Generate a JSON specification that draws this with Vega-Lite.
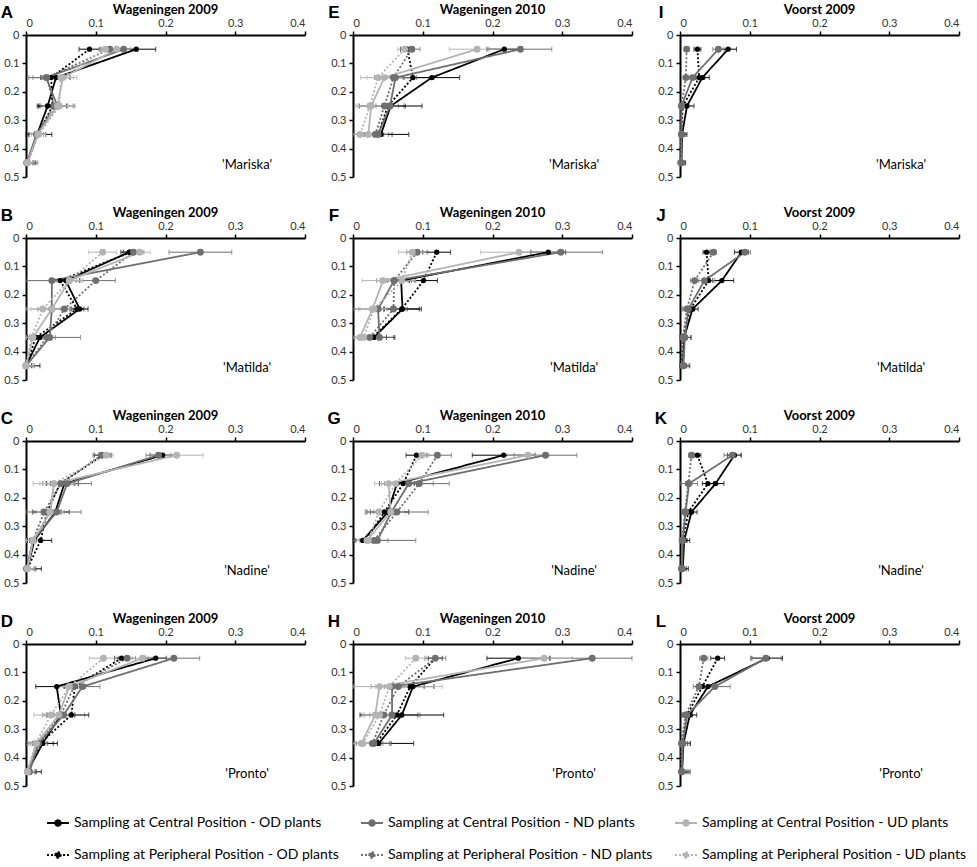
{
  "$schema": "https://vega.github.io/schema/vega-lite/v6.json",
  "description": "Root distribution by depth, 12 panels",
  "padding": {"left": 0, "top": 4, "right": 0, "bottom": 0},
  "data": {
    "values": [
      {"p":"A","s":"COD","d":0.05,"v":0.158,"e":0.028,"cv":"'Mariska'"},{"p":"A","s":"COD","d":0.15,"v":0.043,"e":0.02},{"p":"A","s":"COD","d":0.25,"v":0.031,"e":0.015},{"p":"A","s":"COD","d":0.35,"v":0.016,"e":0.012},{"p":"A","s":"COD","d":0.45,"v":0.002,"e":0.008},
      {"p":"A","s":"POD","d":0.05,"v":0.091,"e":0.015},{"p":"A","s":"POD","d":0.15,"v":0.036,"e":0.015},{"p":"A","s":"POD","d":0.25,"v":0.038,"e":0.02},{"p":"A","s":"POD","d":0.35,"v":0.017,"e":0.02},{"p":"A","s":"POD","d":0.45,"v":0.002,"e":0.012},
      {"p":"A","s":"CND","d":0.05,"v":0.14,"e":0.02},{"p":"A","s":"CND","d":0.15,"v":0.029,"e":0.025},{"p":"A","s":"CND","d":0.25,"v":0.045,"e":0.025},{"p":"A","s":"CND","d":0.35,"v":0.015,"e":0.01},{"p":"A","s":"CND","d":0.45,"v":0.001,"e":0.01},
      {"p":"A","s":"PND","d":0.05,"v":0.12,"e":0.012},{"p":"A","s":"PND","d":0.15,"v":0.03,"e":0.02},{"p":"A","s":"PND","d":0.25,"v":0.04,"e":0.02},{"p":"A","s":"PND","d":0.35,"v":0.016,"e":0.012},{"p":"A","s":"PND","d":0.45,"v":0.002,"e":0.015},
      {"p":"A","s":"CUD","d":0.05,"v":0.13,"e":0.02},{"p":"A","s":"CUD","d":0.15,"v":0.053,"e":0.02},{"p":"A","s":"CUD","d":0.25,"v":0.045,"e":0.022},{"p":"A","s":"CUD","d":0.35,"v":0.017,"e":0.012},{"p":"A","s":"CUD","d":0.45,"v":0.002,"e":0.01},
      {"p":"A","s":"PUD","d":0.05,"v":0.114,"e":0.01},{"p":"A","s":"PUD","d":0.15,"v":0.05,"e":0.018},{"p":"A","s":"PUD","d":0.25,"v":0.048,"e":0.02},{"p":"A","s":"PUD","d":0.35,"v":0.018,"e":0.01},{"p":"A","s":"PUD","d":0.45,"v":0.002,"e":0.01},

      {"p":"B","s":"COD","d":0.05,"v":0.148,"e":0.012,"cv":"'Matilda'"},{"p":"B","s":"COD","d":0.15,"v":0.057,"e":0.02},{"p":"B","s":"COD","d":0.25,"v":0.077,"e":0.012},{"p":"B","s":"COD","d":0.35,"v":0.02,"e":0.01},{"p":"B","s":"COD","d":0.45,"v":0.0,"e":0.008},
      {"p":"B","s":"POD","d":0.05,"v":0.15,"e":0.01},{"p":"B","s":"POD","d":0.15,"v":0.049,"e":0.015},{"p":"B","s":"POD","d":0.25,"v":0.073,"e":0.01},{"p":"B","s":"POD","d":0.35,"v":0.014,"e":0.012},{"p":"B","s":"POD","d":0.45,"v":0.0,"e":0.02},
      {"p":"B","s":"CND","d":0.05,"v":0.25,"e":0.045},{"p":"B","s":"CND","d":0.15,"v":0.037,"e":0.04},{"p":"B","s":"CND","d":0.25,"v":0.037,"e":0.02},{"p":"B","s":"CND","d":0.35,"v":0.034,"e":0.044},{"p":"B","s":"CND","d":0.45,"v":0.0,"e":0.01},
      {"p":"B","s":"PND","d":0.05,"v":0.154,"e":0.015},{"p":"B","s":"PND","d":0.15,"v":0.1,"e":0.028},{"p":"B","s":"PND","d":0.25,"v":0.055,"e":0.02},{"p":"B","s":"PND","d":0.35,"v":0.03,"e":0.012},{"p":"B","s":"PND","d":0.45,"v":0.0,"e":0.012},
      {"p":"B","s":"CUD","d":0.05,"v":0.163,"e":0.015},{"p":"B","s":"CUD","d":0.15,"v":0.062,"e":0.02},{"p":"B","s":"CUD","d":0.25,"v":0.037,"e":0.03},{"p":"B","s":"CUD","d":0.35,"v":0.01,"e":0.015},{"p":"B","s":"CUD","d":0.45,"v":0.0,"e":0.012},
      {"p":"B","s":"PUD","d":0.05,"v":0.11,"e":0.02},{"p":"B","s":"PUD","d":0.15,"v":0.062,"e":0.018},{"p":"B","s":"PUD","d":0.25,"v":0.024,"e":0.025},{"p":"B","s":"PUD","d":0.35,"v":0.008,"e":0.01},{"p":"B","s":"PUD","d":0.45,"v":0.0,"e":0.012},

      {"p":"C","s":"COD","d":0.05,"v":0.196,"e":0.018,"cv":"'Nadine'"},{"p":"C","s":"COD","d":0.15,"v":0.055,"e":0.02},{"p":"C","s":"COD","d":0.25,"v":0.042,"e":0.02},{"p":"C","s":"COD","d":0.35,"v":0.012,"e":0.01},{"p":"C","s":"COD","d":0.45,"v":0.002,"e":0.012},
      {"p":"C","s":"POD","d":0.05,"v":0.11,"e":0.012},{"p":"C","s":"POD","d":0.15,"v":0.049,"e":0.02},{"p":"C","s":"POD","d":0.25,"v":0.03,"e":0.02},{"p":"C","s":"POD","d":0.35,"v":0.021,"e":0.016},{"p":"C","s":"POD","d":0.45,"v":0.002,"e":0.02},
      {"p":"C","s":"CND","d":0.05,"v":0.19,"e":0.018},{"p":"C","s":"CND","d":0.15,"v":0.059,"e":0.035},{"p":"C","s":"CND","d":0.25,"v":0.044,"e":0.035},{"p":"C","s":"CND","d":0.35,"v":0.01,"e":0.012},{"p":"C","s":"CND","d":0.45,"v":0.001,"e":0.01},
      {"p":"C","s":"PND","d":0.05,"v":0.108,"e":0.012},{"p":"C","s":"PND","d":0.15,"v":0.05,"e":0.02},{"p":"C","s":"PND","d":0.25,"v":0.026,"e":0.025},{"p":"C","s":"PND","d":0.35,"v":0.01,"e":0.01},{"p":"C","s":"PND","d":0.45,"v":0.001,"e":0.012},
      {"p":"C","s":"CUD","d":0.05,"v":0.216,"e":0.038},{"p":"C","s":"CUD","d":0.15,"v":0.04,"e":0.03},{"p":"C","s":"CUD","d":0.25,"v":0.035,"e":0.02},{"p":"C","s":"CUD","d":0.35,"v":0.01,"e":0.01},{"p":"C","s":"CUD","d":0.45,"v":0.002,"e":0.01},
      {"p":"C","s":"PUD","d":0.05,"v":0.115,"e":0.01},{"p":"C","s":"PUD","d":0.15,"v":0.04,"e":0.02},{"p":"C","s":"PUD","d":0.25,"v":0.034,"e":0.02},{"p":"C","s":"PUD","d":0.35,"v":0.01,"e":0.012},{"p":"C","s":"PUD","d":0.45,"v":0.002,"e":0.012},

      {"p":"D","s":"COD","d":0.05,"v":0.186,"e":0.015,"cv":"'Pronto'"},{"p":"D","s":"COD","d":0.15,"v":0.044,"e":0.03},{"p":"D","s":"COD","d":0.25,"v":0.05,"e":0.02},{"p":"D","s":"COD","d":0.35,"v":0.024,"e":0.015},{"p":"D","s":"COD","d":0.45,"v":0.002,"e":0.012},
      {"p":"D","s":"POD","d":0.05,"v":0.137,"e":0.01},{"p":"D","s":"POD","d":0.15,"v":0.07,"e":0.015},{"p":"D","s":"POD","d":0.25,"v":0.065,"e":0.025},{"p":"D","s":"POD","d":0.35,"v":0.02,"e":0.025},{"p":"D","s":"POD","d":0.45,"v":0.002,"e":0.02},
      {"p":"D","s":"CND","d":0.05,"v":0.212,"e":0.037},{"p":"D","s":"CND","d":0.15,"v":0.081,"e":0.025},{"p":"D","s":"CND","d":0.25,"v":0.054,"e":0.03},{"p":"D","s":"CND","d":0.35,"v":0.018,"e":0.012},{"p":"D","s":"CND","d":0.45,"v":0.005,"e":0.01},
      {"p":"D","s":"PND","d":0.05,"v":0.145,"e":0.012},{"p":"D","s":"PND","d":0.15,"v":0.069,"e":0.015},{"p":"D","s":"PND","d":0.25,"v":0.05,"e":0.02},{"p":"D","s":"PND","d":0.35,"v":0.016,"e":0.015},{"p":"D","s":"PND","d":0.45,"v":0.003,"e":0.012},
      {"p":"D","s":"CUD","d":0.05,"v":0.167,"e":0.015},{"p":"D","s":"CUD","d":0.15,"v":0.062,"e":0.015},{"p":"D","s":"CUD","d":0.25,"v":0.047,"e":0.02},{"p":"D","s":"CUD","d":0.35,"v":0.015,"e":0.012},{"p":"D","s":"CUD","d":0.45,"v":0.002,"e":0.01},
      {"p":"D","s":"PUD","d":0.05,"v":0.111,"e":0.02},{"p":"D","s":"PUD","d":0.15,"v":0.062,"e":0.015},{"p":"D","s":"PUD","d":0.25,"v":0.036,"e":0.025},{"p":"D","s":"PUD","d":0.35,"v":0.014,"e":0.01},{"p":"D","s":"PUD","d":0.45,"v":0.002,"e":0.01},

      {"p":"E","s":"COD","d":0.05,"v":0.217,"e":0.025,"cv":"'Mariska'"},{"p":"E","s":"COD","d":0.15,"v":0.113,"e":0.04},{"p":"E","s":"COD","d":0.25,"v":0.054,"e":0.045},{"p":"E","s":"COD","d":0.35,"v":0.04,"e":0.04},
      {"p":"E","s":"POD","d":0.05,"v":0.078,"e":0.01},{"p":"E","s":"POD","d":0.15,"v":0.086,"e":0.03},{"p":"E","s":"POD","d":0.25,"v":0.05,"e":0.025},{"p":"E","s":"POD","d":0.35,"v":0.036,"e":0.02},
      {"p":"E","s":"CND","d":0.05,"v":0.24,"e":0.045},{"p":"E","s":"CND","d":0.15,"v":0.061,"e":0.03},{"p":"E","s":"CND","d":0.25,"v":0.053,"e":0.02},{"p":"E","s":"CND","d":0.35,"v":0.036,"e":0.015},
      {"p":"E","s":"PND","d":0.05,"v":0.084,"e":0.012},{"p":"E","s":"PND","d":0.15,"v":0.058,"e":0.025},{"p":"E","s":"PND","d":0.25,"v":0.045,"e":0.02},{"p":"E","s":"PND","d":0.35,"v":0.032,"e":0.012},
      {"p":"E","s":"CUD","d":0.05,"v":0.178,"e":0.04},{"p":"E","s":"CUD","d":0.15,"v":0.045,"e":0.025},{"p":"E","s":"CUD","d":0.25,"v":0.026,"e":0.02},{"p":"E","s":"CUD","d":0.35,"v":0.022,"e":0.015},
      {"p":"E","s":"PUD","d":0.05,"v":0.074,"e":0.01},{"p":"E","s":"PUD","d":0.15,"v":0.036,"e":0.025},{"p":"E","s":"PUD","d":0.25,"v":0.024,"e":0.02},{"p":"E","s":"PUD","d":0.35,"v":0.01,"e":0.01},

      {"p":"F","s":"COD","d":0.05,"v":0.28,"e":0.025,"cv":"'Matilda'"},{"p":"F","s":"COD","d":0.15,"v":0.069,"e":0.02},{"p":"F","s":"COD","d":0.25,"v":0.071,"e":0.027},{"p":"F","s":"COD","d":0.35,"v":0.03,"e":0.03},
      {"p":"F","s":"POD","d":0.05,"v":0.12,"e":0.02},{"p":"F","s":"POD","d":0.15,"v":0.101,"e":0.02},{"p":"F","s":"POD","d":0.25,"v":0.07,"e":0.025},{"p":"F","s":"POD","d":0.35,"v":0.028,"e":0.02},
      {"p":"F","s":"CND","d":0.05,"v":0.298,"e":0.06},{"p":"F","s":"CND","d":0.15,"v":0.059,"e":0.025},{"p":"F","s":"CND","d":0.25,"v":0.036,"e":0.04},{"p":"F","s":"CND","d":0.35,"v":0.038,"e":0.02},
      {"p":"F","s":"PND","d":0.05,"v":0.092,"e":0.015},{"p":"F","s":"PND","d":0.15,"v":0.059,"e":0.02},{"p":"F","s":"PND","d":0.25,"v":0.058,"e":0.02},{"p":"F","s":"PND","d":0.35,"v":0.024,"e":0.015},
      {"p":"F","s":"CUD","d":0.05,"v":0.238,"e":0.055},{"p":"F","s":"CUD","d":0.15,"v":0.043,"e":0.03},{"p":"F","s":"CUD","d":0.25,"v":0.028,"e":0.02},{"p":"F","s":"CUD","d":0.35,"v":0.01,"e":0.01},
      {"p":"F","s":"PUD","d":0.05,"v":0.085,"e":0.02},{"p":"F","s":"PUD","d":0.15,"v":0.07,"e":0.02},{"p":"F","s":"PUD","d":0.25,"v":0.03,"e":0.02},{"p":"F","s":"PUD","d":0.35,"v":0.015,"e":0.012},

      {"p":"G","s":"COD","d":0.05,"v":0.216,"e":0.045,"cv":"'Nadine'"},{"p":"G","s":"COD","d":0.15,"v":0.063,"e":0.025},{"p":"G","s":"COD","d":0.25,"v":0.05,"e":0.03},{"p":"G","s":"COD","d":0.35,"v":0.014,"e":0.015},
      {"p":"G","s":"POD","d":0.05,"v":0.091,"e":0.015},{"p":"G","s":"POD","d":0.15,"v":0.072,"e":0.02},{"p":"G","s":"POD","d":0.25,"v":0.045,"e":0.02},{"p":"G","s":"POD","d":0.35,"v":0.018,"e":0.015},
      {"p":"G","s":"CND","d":0.05,"v":0.276,"e":0.045},{"p":"G","s":"CND","d":0.15,"v":0.08,"e":0.035},{"p":"G","s":"CND","d":0.25,"v":0.055,"e":0.025},{"p":"G","s":"CND","d":0.35,"v":0.035,"e":0.055},
      {"p":"G","s":"PND","d":0.05,"v":0.121,"e":0.02},{"p":"G","s":"PND","d":0.15,"v":0.095,"e":0.043},{"p":"G","s":"PND","d":0.25,"v":0.063,"e":0.045},{"p":"G","s":"PND","d":0.35,"v":0.03,"e":0.02},
      {"p":"G","s":"CUD","d":0.05,"v":0.251,"e":0.03},{"p":"G","s":"CUD","d":0.15,"v":0.051,"e":0.02},{"p":"G","s":"CUD","d":0.25,"v":0.054,"e":0.02},{"p":"G","s":"CUD","d":0.35,"v":0.02,"e":0.015},
      {"p":"G","s":"PUD","d":0.05,"v":0.099,"e":0.01},{"p":"G","s":"PUD","d":0.15,"v":0.061,"e":0.02},{"p":"G","s":"PUD","d":0.25,"v":0.037,"e":0.02},{"p":"G","s":"PUD","d":0.35,"v":0.022,"e":0.012},

      {"p":"H","s":"COD","d":0.05,"v":0.237,"e":0.045,"cv":"'Pronto'"},{"p":"H","s":"COD","d":0.15,"v":0.086,"e":0.03},{"p":"H","s":"COD","d":0.25,"v":0.07,"e":0.06},{"p":"H","s":"COD","d":0.35,"v":0.037,"e":0.05},
      {"p":"H","s":"POD","d":0.05,"v":0.118,"e":0.01},{"p":"H","s":"POD","d":0.15,"v":0.082,"e":0.02},{"p":"H","s":"POD","d":0.25,"v":0.063,"e":0.03},{"p":"H","s":"POD","d":0.35,"v":0.033,"e":0.02},
      {"p":"H","s":"CND","d":0.05,"v":0.343,"e":0.06},{"p":"H","s":"CND","d":0.15,"v":0.056,"e":0.03},{"p":"H","s":"CND","d":0.25,"v":0.056,"e":0.04},{"p":"H","s":"CND","d":0.35,"v":0.03,"e":0.025},
      {"p":"H","s":"PND","d":0.05,"v":0.118,"e":0.015},{"p":"H","s":"PND","d":0.15,"v":0.065,"e":0.02},{"p":"H","s":"PND","d":0.25,"v":0.044,"e":0.02},{"p":"H","s":"PND","d":0.35,"v":0.028,"e":0.015},
      {"p":"H","s":"CUD","d":0.05,"v":0.274,"e":0.04},{"p":"H","s":"CUD","d":0.15,"v":0.038,"e":0.09},{"p":"H","s":"CUD","d":0.25,"v":0.032,"e":0.02},{"p":"H","s":"CUD","d":0.35,"v":0.012,"e":0.012},
      {"p":"H","s":"PUD","d":0.05,"v":0.09,"e":0.015},{"p":"H","s":"PUD","d":0.15,"v":0.052,"e":0.02},{"p":"H","s":"PUD","d":0.25,"v":0.038,"e":0.025},{"p":"H","s":"PUD","d":0.35,"v":0.014,"e":0.01},

      {"p":"I","s":"COD","d":0.05,"v":0.069,"e":0.012,"cv":"'Mariska'"},{"p":"I","s":"COD","d":0.15,"v":0.032,"e":0.01},{"p":"I","s":"COD","d":0.25,"v":0.01,"e":0.01},{"p":"I","s":"COD","d":0.35,"v":0.003,"e":0.007},{"p":"I","s":"COD","d":0.45,"v":0.002,"e":0.006},
      {"p":"I","s":"POD","d":0.05,"v":0.025,"e":0.005},{"p":"I","s":"POD","d":0.15,"v":0.0275,"e":0.008},{"p":"I","s":"POD","d":0.25,"v":0.004,"e":0.006},{"p":"I","s":"POD","d":0.35,"v":0.002,"e":0.005},{"p":"I","s":"POD","d":0.45,"v":0.001,"e":0.005},
      {"p":"I","s":"CND","d":0.05,"v":0.055,"e":0.008},{"p":"I","s":"CND","d":0.15,"v":0.018,"e":0.006},{"p":"I","s":"CND","d":0.25,"v":0.002,"e":0.005},{"p":"I","s":"CND","d":0.35,"v":0.002,"e":0.006},{"p":"I","s":"CND","d":0.45,"v":0.002,"e":0.005},
      {"p":"I","s":"PND","d":0.05,"v":0.0095,"e":0.003},{"p":"I","s":"PND","d":0.15,"v":0.0085,"e":0.004},{"p":"I","s":"PND","d":0.25,"v":0.002,"e":0.004},{"p":"I","s":"PND","d":0.35,"v":0.002,"e":0.004},{"p":"I","s":"PND","d":0.45,"v":0.001,"e":0.004},

      {"p":"J","s":"COD","d":0.05,"v":0.088,"e":0.01,"cv":"'Matilda'"},{"p":"J","s":"COD","d":0.15,"v":0.06,"e":0.017},{"p":"J","s":"COD","d":0.25,"v":0.018,"e":0.008},{"p":"J","s":"COD","d":0.35,"v":0.006,"e":0.01},{"p":"J","s":"COD","d":0.45,"v":0.004,"e":0.01},
      {"p":"J","s":"POD","d":0.05,"v":0.038,"e":0.005},{"p":"J","s":"POD","d":0.15,"v":0.041,"e":0.006},{"p":"J","s":"POD","d":0.25,"v":0.015,"e":0.006},{"p":"J","s":"POD","d":0.35,"v":0.004,"e":0.006},{"p":"J","s":"POD","d":0.45,"v":0.003,"e":0.006},
      {"p":"J","s":"CND","d":0.05,"v":0.093,"e":0.008},{"p":"J","s":"CND","d":0.15,"v":0.035,"e":0.015},{"p":"J","s":"CND","d":0.25,"v":0.012,"e":0.008},{"p":"J","s":"CND","d":0.35,"v":0.007,"e":0.008},{"p":"J","s":"CND","d":0.45,"v":0.005,"e":0.008},
      {"p":"J","s":"PND","d":0.05,"v":0.048,"e":0.004},{"p":"J","s":"PND","d":0.15,"v":0.021,"e":0.006},{"p":"J","s":"PND","d":0.25,"v":0.01,"e":0.006},{"p":"J","s":"PND","d":0.35,"v":0.004,"e":0.006},{"p":"J","s":"PND","d":0.45,"v":0.004,"e":0.006},

      {"p":"K","s":"COD","d":0.05,"v":0.078,"e":0.01,"cv":"'Nadine'"},{"p":"K","s":"COD","d":0.15,"v":0.051,"e":0.012},{"p":"K","s":"COD","d":0.25,"v":0.0165,"e":0.008},{"p":"K","s":"COD","d":0.35,"v":0.006,"e":0.008},{"p":"K","s":"COD","d":0.45,"v":0.004,"e":0.008},
      {"p":"K","s":"POD","d":0.05,"v":0.025,"e":0.005},{"p":"K","s":"POD","d":0.15,"v":0.04,"e":0.008},{"p":"K","s":"POD","d":0.25,"v":0.012,"e":0.006},{"p":"K","s":"POD","d":0.35,"v":0.004,"e":0.006},{"p":"K","s":"POD","d":0.45,"v":0.003,"e":0.006},
      {"p":"K","s":"CND","d":0.05,"v":0.075,"e":0.012},{"p":"K","s":"CND","d":0.15,"v":0.013,"e":0.012},{"p":"K","s":"CND","d":0.25,"v":0.008,"e":0.006},{"p":"K","s":"CND","d":0.35,"v":0.004,"e":0.006},{"p":"K","s":"CND","d":0.45,"v":0.003,"e":0.006},
      {"p":"K","s":"PND","d":0.05,"v":0.0165,"e":0.004},{"p":"K","s":"PND","d":0.15,"v":0.012,"e":0.004},{"p":"K","s":"PND","d":0.25,"v":0.007,"e":0.004},{"p":"K","s":"PND","d":0.35,"v":0.003,"e":0.004},{"p":"K","s":"PND","d":0.45,"v":0.002,"e":0.004},

      {"p":"L","s":"COD","d":0.05,"v":0.125,"e":0.022,"cv":"'Pronto'"},{"p":"L","s":"COD","d":0.15,"v":0.04,"e":0.012},{"p":"L","s":"COD","d":0.25,"v":0.014,"e":0.01},{"p":"L","s":"COD","d":0.35,"v":0.005,"e":0.01},{"p":"L","s":"COD","d":0.45,"v":0.003,"e":0.01},
      {"p":"L","s":"POD","d":0.05,"v":0.054,"e":0.01},{"p":"L","s":"POD","d":0.15,"v":0.032,"e":0.008},{"p":"L","s":"POD","d":0.25,"v":0.01,"e":0.008},{"p":"L","s":"POD","d":0.35,"v":0.003,"e":0.008},{"p":"L","s":"POD","d":0.45,"v":0.002,"e":0.008},
      {"p":"L","s":"CND","d":0.05,"v":0.123,"e":0.022},{"p":"L","s":"CND","d":0.15,"v":0.05,"e":0.022},{"p":"L","s":"CND","d":0.25,"v":0.01,"e":0.008},{"p":"L","s":"CND","d":0.35,"v":0.004,"e":0.01},{"p":"L","s":"CND","d":0.45,"v":0.003,"e":0.012},
      {"p":"L","s":"PND","d":0.05,"v":0.034,"e":0.006},{"p":"L","s":"PND","d":0.15,"v":0.027,"e":0.008},{"p":"L","s":"PND","d":0.25,"v":0.008,"e":0.006},{"p":"L","s":"PND","d":0.35,"v":0.002,"e":0.006},{"p":"L","s":"PND","d":0.45,"v":0.002,"e":0.006}
    ]
  },
  "columns": 3,
  "facet": {
    "field": "p",
    "type": "nominal",
    "sort": ["A","E","I","B","F","J","C","G","K","D","H","L"],
    "header": {
      "title": null,
      "labelFont": "Lato",
      "labelFontSize": 13,
      "labelFontWeight": "bold",
      "labelColor": "black",
      "labelPadding": -13,
      "labelExpr": "datum.value <= 'D' ? 'Wageningen 2009' : datum.value <= 'H' ? 'Wageningen 2010' : 'Voorst 2009'"
    }
  },
  "spacing": {"row": 25, "column": 21},
  "resolve": {"axis": {"x": "independent", "y": "independent"}},
  "spec": {
    "width": 279,
    "height": 142,
    "encoding": {
      "x": {
        "field": "v", "type": "quantitative", "title": null,
        "scale": {"domain": [0, 0.4], "nice": false, "clamp": true},
        "axis": {"orient": "top", "values": [0, 0.1, 0.2, 0.3, 0.4], "format": "~g"}
      },
      "y": {
        "field": "d", "type": "quantitative", "title": null,
        "scale": {"domain": [0, 0.5], "nice": false, "reverse": true},
        "axis": {"orient": "left", "values": [0, 0.1, 0.2, 0.3, 0.4, 0.5], "format": "~g"}
      }
    },
    "layer": [
      {
        "mark": {"type": "errorbar", "ticks": true, "thickness": 1},
        "encoding": {
          "xError": {"field": "e"},
          "color": {"field": "s", "type": "nominal"}
        }
      },
      {
        "mark": {"type": "line", "strokeWidth": 1.8},
        "encoding": {
          "order": {"field": "d", "type": "quantitative"},
          "color": {
            "field": "s", "type": "nominal",
            "scale": {
              "domain": ["COD","CND","CUD","POD","PND","PUD"],
              "range": ["#000000","#6f6f6f","#b4b4b4","#000000","#6f6f6f","#b4b4b4"]
            },
            "legend": {
              "labelExpr": "datum.label == 'COD' ? 'Sampling at Central Position - OD plants' : datum.label == 'CND' ? 'Sampling at Central Position - ND plants' : datum.label == 'CUD' ? 'Sampling at Central Position - UD plants' : datum.label == 'POD' ? 'Sampling at Peripheral Position - OD plants' : datum.label == 'PND' ? 'Sampling at Peripheral Position - ND plants' : 'Sampling at Peripheral Position - UD plants'",
              "encode": {"symbols": {"update": {"fill": {"scale": "color", "field": "value"}}}}
            }
          },
          "strokeDash": {
            "field": "s", "type": "nominal",
            "scale": {
              "domain": ["COD","CND","CUD","POD","PND","PUD"],
              "range": [[1,0],[1,0],[1,0],[2,2],[2,2],[2,2]]
            },
            "legend": {
              "labelExpr": "datum.label == 'COD' ? 'Sampling at Central Position - OD plants' : datum.label == 'CND' ? 'Sampling at Central Position - ND plants' : datum.label == 'CUD' ? 'Sampling at Central Position - UD plants' : datum.label == 'POD' ? 'Sampling at Peripheral Position - OD plants' : datum.label == 'PND' ? 'Sampling at Peripheral Position - ND plants' : 'Sampling at Peripheral Position - UD plants'",
              "encode": {"symbols": {"update": {"fill": {"scale": "color", "field": "value"}}}}
            }
          }
        }
      },
      {
        "mark": {"type": "point", "filled": true, "opacity": 1},
        "encoding": {
          "color": {"field": "s", "type": "nominal"},
          "size": {"condition": {"test": "datum.s == 'COD' || datum.s == 'POD'", "value": 28}, "value": 48}
        }
      },
      {
        "transform": [{"filter": "datum.cv"}],
        "mark": {"type": "text", "font": "Lato", "fontSize": 13, "align": "center", "baseline": "middle", "color": "black"},
        "encoding": {
          "x": {"datum": 0.317, "type": "quantitative"},
          "y": {"datum": 0.458, "type": "quantitative"},
          "text": {"field": "cv"}
        }
      },
      {
        "transform": [{"filter": "datum.cv"}],
        "mark": {"type": "text", "font": "Liberation Sans", "fontSize": 17, "fontWeight": "bold", "align": "center", "baseline": "middle", "color": "black", "dx": -19, "dy": -22},
        "encoding": {
          "x": {"datum": 0, "type": "quantitative"},
          "y": {"datum": 0, "type": "quantitative"},
          "text": {"field": "p"}
        }
      }
    ]
  },
  "config": {
    "view": {"stroke": null},
    "font": "Lato",
    "legend": {
      "orient": "bottom",
      "offset": 0,
      "padding": 20,
      "title": null,
      "columns": 3,
      "symbolType": "M-1,0L1,0M-0.25,0A0.25,0.25,0,1,1,0.25,0A0.25,0.25,0,1,1,-0.25,0Z",
      "symbolStrokeWidth": 2,
      "symbolSize": 480,
      "labelFont": "Lato",
      "labelFontSize": 14,
      "labelColor": "black",
      "labelLimit": 0,
      "columnPadding": 18,
      "rowPadding": 13
    },
    "axis": {
      "grid": false,
      "domainColor": "black",
      "domainWidth": 2,
      "tickColor": "black",
      "tickWidth": 1.5,
      "tickSize": 4,
      "labelFont": "Lato",
      "labelFontSize": 11,
      "labelColor": "#333333",
      "labelPadding": 3
    }
  }
}
